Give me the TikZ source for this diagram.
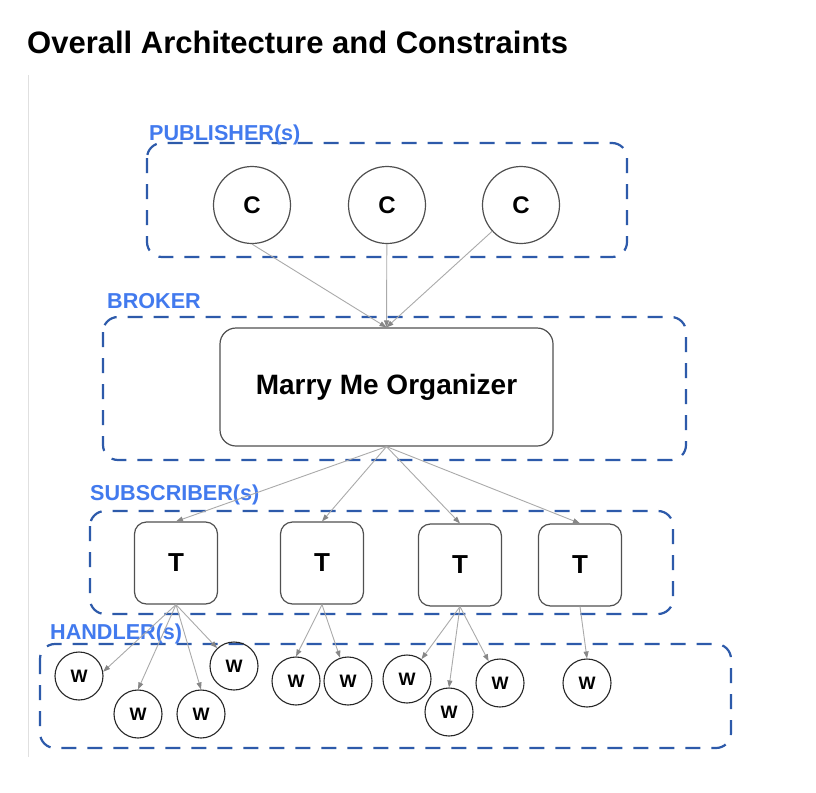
\documentclass[tikz,border=0pt]{standalone}
\usepackage{fontspec}
\setmainfont{Liberation Sans}
\usetikzlibrary{arrows.meta}
\definecolor{grpblue}{RGB}{45,90,170}
\definecolor{lblblue}{RGB}{66,122,238}
\definecolor{wiregray}{RGB}{170,170,170}
\definecolor{tipgray}{RGB}{135,135,135}
\definecolor{edgegray}{RGB}{80,80,80}
\begin{document}
\begin{tikzpicture}[x=1pt,y=-1pt,
    grp/.style={draw=grpblue,line width=2.2pt,dash pattern=on 15pt off 11pt,rounded corners=15pt},
    grplbl/.style={anchor=base west,inner sep=0pt,text=lblblue,font=\fontsize{21.6}{24}\selectfont\bfseries},
    pub/.style={draw=edgegray,circle,line width=1.2pt,minimum size=77pt,inner sep=0pt,font=\fontsize{24}{26}\selectfont\bfseries},
    sub/.style={draw=edgegray,rounded corners=12pt,line width=1.2pt,minimum width=83pt,minimum height=82pt,inner sep=0pt,font=\fontsize{26}{28}\selectfont\bfseries},
    hnd/.style={draw=black!85,circle,line width=1.1pt,minimum size=48pt,inner sep=0pt,font=\fontsize{18}{20}\selectfont\bfseries},
    wire/.style={draw=wiregray,line width=0.9pt,-{Triangle[length=7pt,width=5pt,color=tipgray]}}]
    \useasboundingbox[fill=white] (0,0) rectangle (816,792);
    \node(title) at (27,53) [anchor=base west,inner sep=0pt,font=\fontsize{31}{34}\selectfont\bfseries] {Overall Architecture and Constraints};
    \draw[black!12,line width=1pt] (28,75) -- (28,757);

    % publishers
    \draw[grp] (147,143) rectangle (627,257);
    \node(publbl) at (149,140) [grplbl] {PUBLISHER(s)};
  	\node(c1) at (252,205) [pub] {C};
  	\node(c2) at (387,205) [pub] {C};
  	\node(c3) at (521,205) [pub] {C};

    % broker
    \draw[grp] (103,317) rectangle (686,460);
    \node(brolbl) at (107,308) [grplbl] {BROKER};
    \node(org) at (386.5,387) [draw=edgegray,rounded corners=16pt,line width=1.2pt,minimum width=333pt,minimum height=118pt,font=\fontsize{28}{30}\selectfont\bfseries] {Marry Me Organizer};

    % subscribers
    \draw[grp] (90,511) rectangle (673,614);
    \node(sublbl) at (90,500) [grplbl] {SUBSCRIBER(s)};
    \node(t1) at (176,563) [sub] {T};
    \node(t2) at (322,563) [sub] {T};
    \node(t3) at (460,565) [sub] {T};
    \node(t4) at (580,565) [sub] {T};

    % handlers
    \draw[grp] (40,644) rectangle (731,748);
    \node(hndlbl) at (50,639) [grplbl] {HANDLER(s)};
    \node(w1) at (79,676) [hnd] {W};
    \node(w2) at (138,714) [hnd] {W};
    \node(w3) at (201,714) [hnd] {W};
    \node(w4) at (234,666) [hnd] {W};
    \node(w5) at (296,681) [hnd] {W};
    \node(w6) at (348,681) [hnd] {W};
    \node(w7) at (407,679) [hnd] {W};
    \node(w8) at (449,712) [hnd] {W};
    \node(w9) at (500,683) [hnd] {W};
    \node(w10) at (587,683) [hnd] {W};

    % connectors
    \draw[wire] (c1.south) -- (org.north);
    \draw[wire] (c2) -- (org.north);
    \draw[wire] (c3) -- (org.north);
    \draw[wire] (org.south) -- (t1.north);
    \draw[wire] (org.south) -- (t2.north);
    \draw[wire] (org.south) -- (t3.north);
    \draw[wire] (org.south) -- (t4.north);
    \draw[wire] (t1.south) -- (w1.10);
    \draw[wire] (t1.south) -- (w2.north);
    \draw[wire] (t1.south) -- (w3.north);
    \draw[wire] (t1.south) -- (w4);
    \draw[wire] (t2.south) -- (w5.north);
    \draw[wire] (t2.south) -- (w6);
    \draw[wire] (t3.south) -- (w7);
    \draw[wire] (t3.south) -- (w8.north);
    \draw[wire] (t3.south) -- (w9);
    \draw[wire] (t4.south) -- (w10.north);
\end{tikzpicture}
\end{document}
